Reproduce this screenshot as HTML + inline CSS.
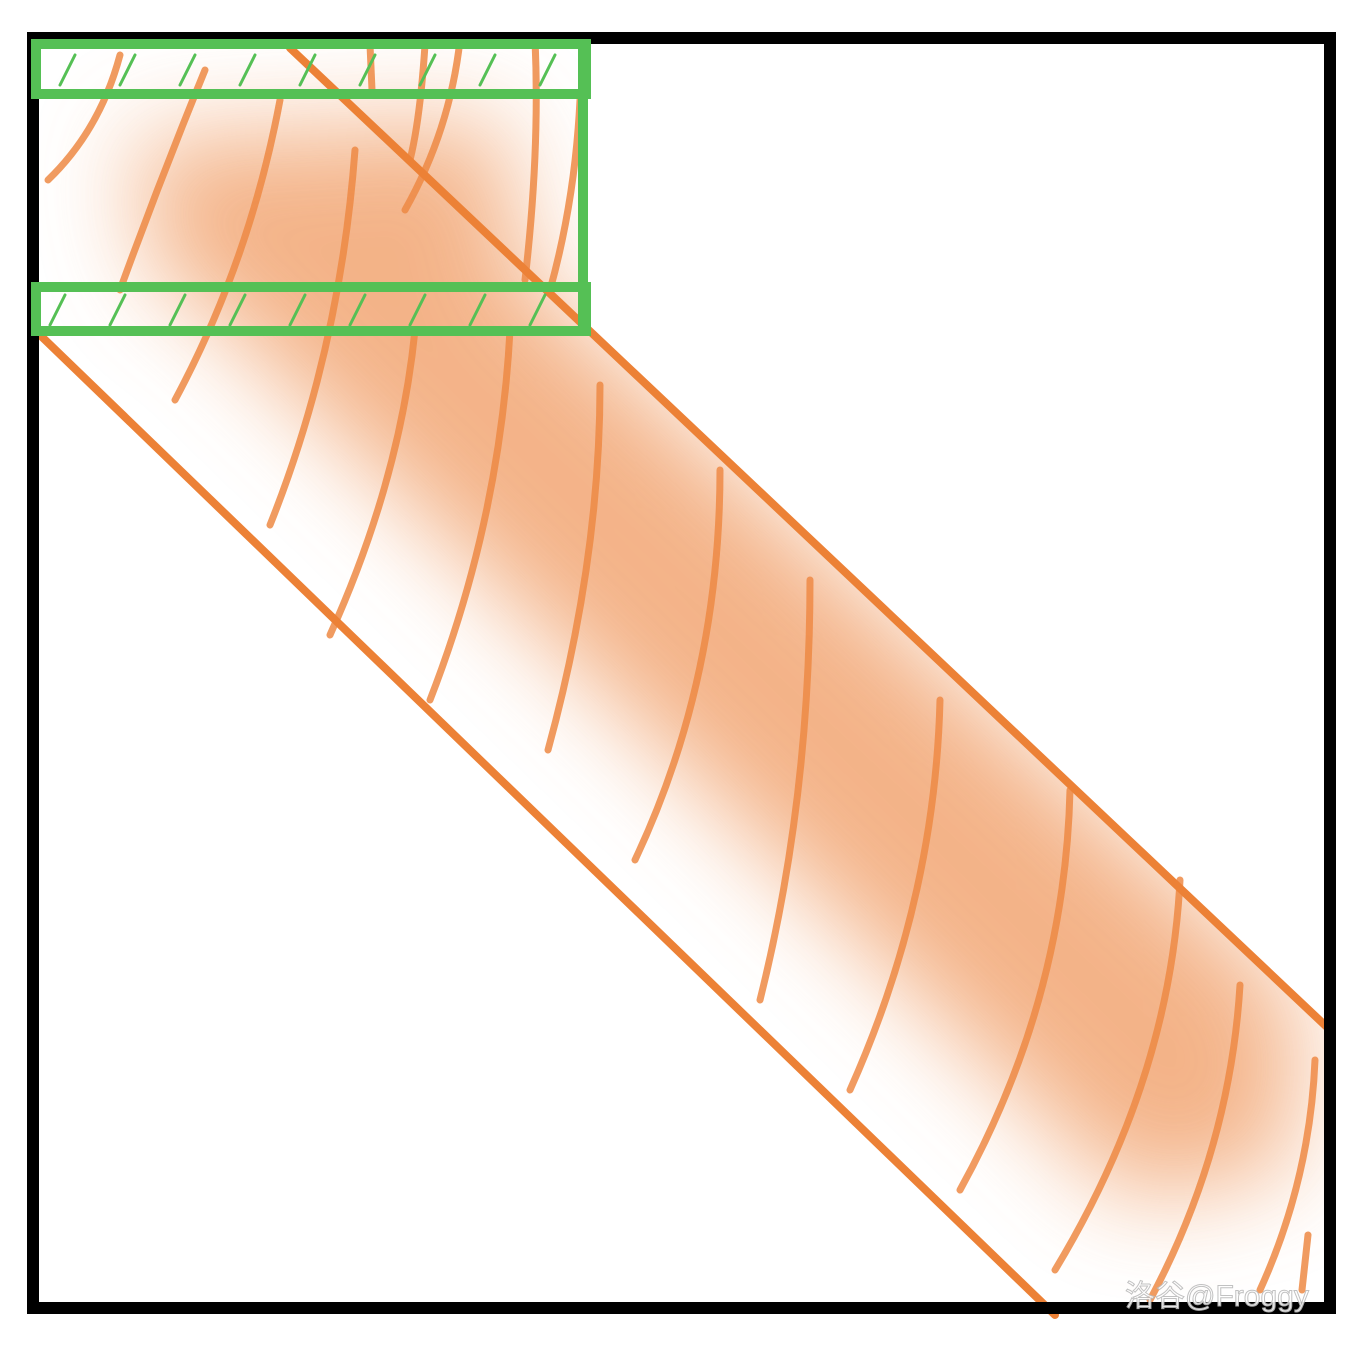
<!DOCTYPE html>
<html><head><meta charset="utf-8"><style>
html,body{margin:0;padding:0;background:#fff;}
svg{display:block;}
</style></head><body>
<svg width="1372" height="1350" viewBox="0 0 1372 1350" xmlns="http://www.w3.org/2000/svg">
<defs>
<filter id="blur" x="-50%" y="-50%" width="200%" height="200%"><feGaussianBlur stdDeviation="50"/></filter>
<clipPath id="band"><polygon points="36,44 588,44 588,333 1325,1025 1325,1305 1050,1305 36,335"/></clipPath>
</defs>
<g clip-path="url(#band)">
<g filter="url(#blur)" fill="#f09a60" opacity="0.75">
<polygon points="200,200 420,180 1300,1000 1290,1170 1130,1200 200,300"/>
<polygon points="130,140 500,120 520,260 160,290"/>
</g>
</g>
<g stroke="#ee8a45" stroke-width="7" fill="none" stroke-linecap="round" opacity="0.85">
<path d="M600,385 Q600,560 548,750"/>
<path d="M720,470 Q720,680 635,860"/>
<path d="M810,580 Q810,800 760,1000"/>
<path d="M940,700 Q935,900 850,1090"/>
<path d="M1070,790 Q1065,1000 960,1190"/>
<path d="M1180,880 Q1170,1080 1055,1270"/>
<path d="M1240,985 Q1230,1150 1150,1300"/>
<path d="M1315,1060 Q1310,1180 1260,1290"/>
<path d="M1308,1235 L1302,1290"/>
<path d="M510,330 Q500,520 430,700"/>
<path d="M415,330 Q400,480 330,635"/>
<path d="M355,150 Q340,350 270,525"/>
<path d="M280,100 Q250,260 175,400"/>
<path d="M205,70 Q160,180 120,290"/>
<path d="M120,55 Q100,130 48,180"/>
<path d="M460,40 Q450,130 405,210"/>
<path d="M425,45 Q420,120 410,160"/>
<path d="M535,40 Q540,150 525,280"/>
<path d="M580,100 Q575,200 550,290"/>
<path d="M370,45 L372,90"/>
</g>
<g stroke="#ec8136" stroke-width="8" stroke-linecap="round">
<line x1="290" y1="48" x2="1330" y2="1030"/>
<line x1="40" y1="335" x2="1055" y2="1315"/>
</g>
<rect x="33" y="38" width="1297" height="1270" fill="none" stroke="#000" stroke-width="12"/>
<g stroke="#55c055" stroke-width="10" fill="none">
<rect x="36" y="44" width="550" height="50"/>
<rect x="36" y="287" width="550" height="44"/>
<line x1="583" y1="44" x2="583" y2="331"/>
</g>
<g stroke="#55c055" stroke-width="3" stroke-linecap="round">
<line x1="60" y1="85" x2="75" y2="55"/><line x1="120" y1="85" x2="135" y2="55"/><line x1="180" y1="85" x2="195" y2="55"/>
<line x1="240" y1="85" x2="255" y2="55"/><line x1="300" y1="85" x2="315" y2="55"/><line x1="360" y1="85" x2="375" y2="55"/>
<line x1="420" y1="85" x2="435" y2="55"/><line x1="480" y1="85" x2="495" y2="55"/><line x1="540" y1="85" x2="555" y2="55"/>
<line x1="50" y1="325" x2="65" y2="295"/><line x1="110" y1="325" x2="125" y2="295"/><line x1="170" y1="325" x2="185" y2="295"/>
<line x1="230" y1="325" x2="245" y2="295"/><line x1="290" y1="325" x2="305" y2="295"/><line x1="350" y1="325" x2="365" y2="295"/>
<line x1="410" y1="325" x2="425" y2="295"/><line x1="470" y1="325" x2="485" y2="295"/><line x1="530" y1="325" x2="545" y2="295"/>
</g>
<text x="1125" y="1306" font-family="Liberation Sans, Noto Sans CJK SC, sans-serif" font-size="30" fill="#ffffff" stroke="#bbbbbb" stroke-width="1" opacity="0.9">洛谷@Froggy</text>
</svg>
</body></html>
